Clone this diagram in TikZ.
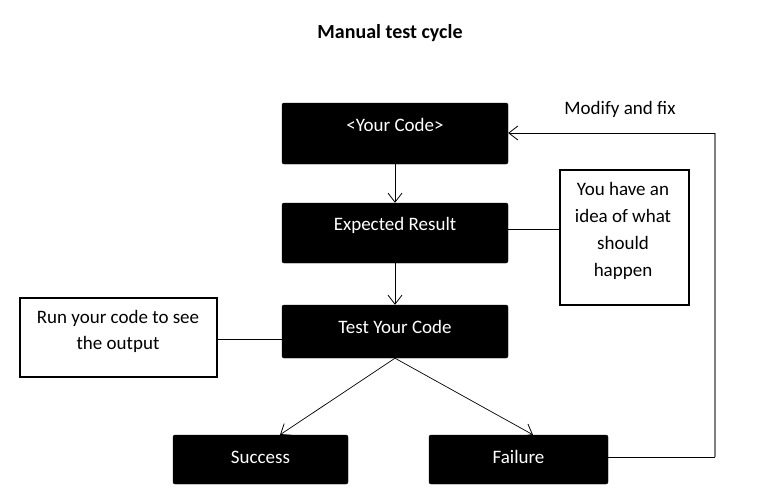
\documentclass[tikz,border=0pt]{standalone}
\usepackage{fontspec}
\setmainfont{Carlito}
\usetikzlibrary{arrows.meta}
\begin{document}
\begin{tikzpicture}[x=1pt,y=-1pt,
  blk/.style={draw=black,fill=black,rounded corners=2pt,inner sep=0pt},
  wt/.style={text=white,font=\fontsize{19}{22}\selectfont},
  note/.style={draw=black,line width=2.2pt,fill=white,inner sep=0pt},
  arr/.style={-{Straight Barb[length=9pt,width=14pt,line width=0.8pt]},line width=0.7pt},
  ln/.style={line width=0.9pt}]
\useasboundingbox (0,0) rectangle (768,501);
\node[font=\bfseries\fontsize{20}{24}\selectfont] (title) at (390,33) {Manual test cycle};
% black boxes
\node[blk,minimum width=226pt,minimum height=61pt] (code) at (395,133.5) {};
\node[wt] (codet) at (395,125) {<Your Code>};
\node[blk,minimum width=226pt,minimum height=60pt] (exp) at (395,233) {};
\node[wt] (expt) at (395,225) {Expected Result};
\node[blk,minimum width=226pt,minimum height=53pt] (test) at (395,331.5) {};
\node[wt] (testt) at (395,327) {Test Your Code};
\node[blk,minimum width=175pt,minimum height=49pt] (succ) at (260.5,459.5) {};
\node[wt] (succt) at (260.5,457) {Success};
\node[blk,minimum width=179pt,minimum height=49pt] (fail) at (518.5,459.5) {};
\node[wt] (failt) at (518.5,457) {Failure};
% notes
\node[note,minimum width=129pt,minimum height=135pt] (idea) at (624.5,237.5) {};
\node[align=center,font=\fontsize{19}{27}\selectfont] (ideat) at (623,231) {You have an\\idea of what\\should\\happen};
\node[note,minimum width=197pt,minimum height=79pt] (run) at (118.5,337.5) {};
\node[align=center,font=\fontsize{19}{26}\selectfont] (runt) at (118,331) {Run your code to see\\the output};
\node[font=\fontsize{19}{22}\selectfont] (mod) at (620,109) {Modify and fix};
% connectors
\draw[arr] (code.south) -- (exp.north);
\draw[arr] (exp.south) -- (test.north);
\draw[arr] (test.south) -- (succ.north -| 280,0);
\draw[arr] (test.south) -- (fail.north -| 533,0);
\draw[ln] (exp.east |- 0,229) -- (idea.west |- 0,229);
\draw[ln] (run.east |- 0,339) -- (test.west |- 0,339);
\coordinate (c1) at (715,457);
\coordinate (c2) at (715,133);
\draw[ln] (fail.east |- c1) -- (c1);
\draw[line width=1.2pt,gray] (c1) -- (c2);
\draw[arr,ln] (c2) -- (code.east |- c2);
\end{tikzpicture}
\end{document}
